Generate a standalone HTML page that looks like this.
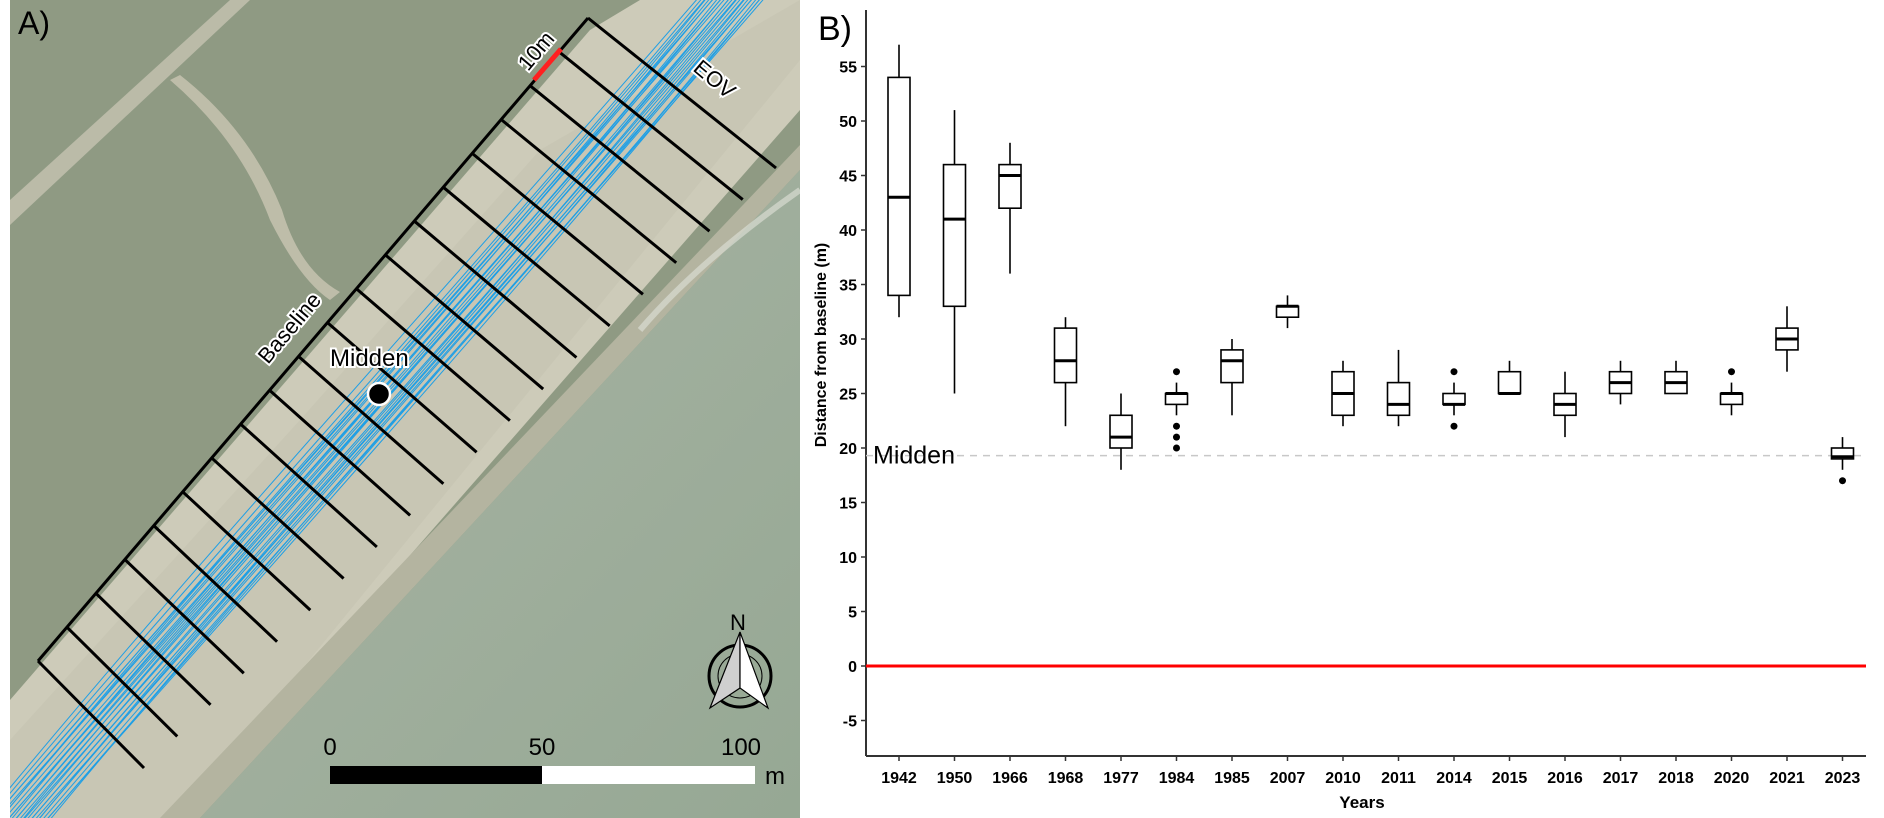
<!DOCTYPE html>
<html><head><meta charset="utf-8"><style>
html,body{margin:0;padding:0;background:#fff;}
svg{display:block;}
text{font-family:"Liberation Sans",Arial,sans-serif;}
</style></head><body>
<svg id="fig" width="1884" height="818" viewBox="0 0 1884 818" xmlns="http://www.w3.org/2000/svg">
<defs>
<clipPath id="mapclip"><rect x="10" y="0" width="790" height="818"/></clipPath>
<linearGradient id="seag" x1="0" y1="0" x2="1" y2="1"><stop offset="0" stop-color="#a9b5a5"/><stop offset="1" stop-color="#96a894"/></linearGradient>
</defs>
<g id="map" clip-path="url(#mapclip)">
<rect x="10" y="0" width="790" height="818" fill="#8f9a83"/>
<path d="M10,200 L230,0 L250,0 L10,225 Z" fill="#c6c3b1" opacity="0.8"/>
<path d="M170,80 Q240,140 270,220 Q300,280 330,300 L340,292 Q300,270 282,210 Q250,130 180,75 Z" fill="#c9c6b3" opacity="0.8"/>
<path d="M10,818 L10,700 L590,30 L640,0 L800,0 L800,110 L180,818 Z" fill="#cdcbb9"/>
<path d="M10,818 L10,740 L300,420 L540,150 L800,0 L800,60 L180,818 Z" fill="#c4c3b0" opacity="0.6"/>
<path d="M160,818 L800,145 L800,170 L200,818 Z" fill="#b4b4a0"/>
<path d="M200,818 L800,170 L800,818 Z" fill="url(#seag)"/>
<path d="M640,330 Q700,260 800,190" stroke="#d8dbd2" stroke-width="6" fill="none" opacity="0.7"/>
<g id="shorelines" fill="none" stroke="#1e9fe6" stroke-width="1"></g>
<g id="transects" stroke="#000" stroke-width="3" fill="none"></g>
<line x1="534" y1="80" x2="561" y2="49" stroke="#ff2020" stroke-width="5"/>
<text x="0" y="0" font-size="22" fill="#000" stroke="#fff" stroke-width="4" paint-order="stroke" transform="translate(528,72) rotate(-50)">10m</text>
<text x="0" y="0" font-size="22" fill="#000" stroke="#fff" stroke-width="4" paint-order="stroke" transform="translate(692,70) rotate(40)">EOV</text>
<text x="0" y="0" font-size="22" fill="#000" stroke="#fff" stroke-width="4" paint-order="stroke" transform="translate(268,365) rotate(-50)">Baseline</text>
<text x="330" y="366" font-size="24" fill="#000" stroke="#fff" stroke-width="4" paint-order="stroke">Midden</text>
<circle cx="379" cy="394" r="11" fill="#000" stroke="#fff" stroke-width="2.5"/>
<text x="18" y="34" font-size="32" fill="#000">A)</text>
<g>
<text x="730" y="630" font-size="22" fill="#000">N</text>
<circle cx="740" cy="676" r="31" fill="none" stroke="#000" stroke-width="3"/>
<circle cx="740" cy="676" r="22" fill="none" stroke="#000" stroke-width="1"/>
<path d="M740,632 L710,708 L740,688 Z" fill="#cfcfcf" stroke="#000" stroke-width="1.2"/>
<path d="M740,632 L768,708 L740,688 Z" fill="#fff" stroke="#000" stroke-width="1.2"/>
</g>
<g>
<rect x="330" y="766" width="212" height="18" fill="#000"/>
<rect x="542" y="766" width="213" height="18" fill="#fff"/>
<text x="330" y="755" font-size="24" text-anchor="middle" fill="#000">0</text>
<text x="542" y="755" font-size="24" text-anchor="middle" fill="#000">50</text>
<text x="741" y="755" font-size="24" text-anchor="middle" fill="#000">100</text>
<text x="765" y="784" font-size="24" fill="#000">m</text>
</g>
</g>

<g id="chart">
<text x="818" y="40" font-size="34" fill="#000">B)</text>
<g id="yaxis"></g>
<g id="xaxis"></g>
<g id="refs"></g>
<g id="boxes"></g>
<text x="0" y="0" font-size="16" font-weight="bold" text-anchor="middle" transform="translate(826,345) rotate(-90)">Distance from baseline (m)</text>
<text x="1362" y="808" font-size="17" font-weight="bold" text-anchor="middle">Years</text>
</g>
</svg>
<script>
const categories=["1942","1950","1966","1968","1977","1984","1985","2007","2010","2011","2014","2015","2016","2017","2018","2020","2021","2023"];
const whiskerLow=[32,25,36,22,18,23,23,31,22,22,23,25,21,24,25,23,27,18];
const q1=[34,33,42,26,20,24,26,32,23,23,24,25,23,25,25,24,29,19];
const medians=[43,41,45,28,21,25,28,33,25,24,24,25,24,26,26,25,30,19.2];
const q3=[54,46,46,31,23,25,29,33,27,26,25,27,25,27,27,25,31,20];
const whiskerHigh=[57,51,48,32,25,26,30,34,28,29,26,28,27,28,28,26,33,21];
const outliers=[[],[],[],[],[],[27,22,21,20],[],[],[],[],[27,22],[],[],[],[],[27],[],[17]];
const yTicks=[-5,0,5,10,15,20,25,30,35,40,45,50,55];
const middenValue=19.3;
const baselineValue=0;

const NS="http://www.w3.org/2000/svg";
const X0=866,X1=1866,YT=10,YB=756;
function y(v){return 666-v*10.9;}
function x(i){return 899+i*55.5;}
function mk(tag,attrs,parent){const e=document.createElementNS(NS,tag);for(const k in attrs)e.setAttribute(k,attrs[k]);parent.appendChild(e);return e;}

const ya=document.getElementById('yaxis');
const yl=mk('line',{x1:X0,y1:YT,x2:X0,y2:YB,stroke:'#333','stroke-width':2},ya);


yTicks.forEach(t=>{
  const tk=mk('line',{x1:X0-5,y1:y(t),x2:X0,y2:y(t),stroke:'#333','stroke-width':1.5},ya);
  
  
  const tx=mk('text',{x:X0-9,y:y(t)+6,'font-size':16,'font-weight':'bold','text-anchor':'end'},ya);
  tx.textContent=t;
  
  
});
const xa=document.getElementById('xaxis');
const xl=mk('line',{x1:X0,y1:YB,x2:X1,y2:YB,stroke:'#333','stroke-width':2},xa);


categories.forEach((c,i)=>{
  const tk=mk('line',{x1:x(i),y1:YB,x2:x(i),y2:YB+5,stroke:'#333','stroke-width':1.5},xa);
  
  
  const tx=mk('text',{x:x(i),y:YB+27,'font-size':16,'font-weight':'bold','text-anchor':'middle'},xa);
  tx.textContent=c;
  
  
});
const rf=document.getElementById('refs');
const ml=mk('line',{x1:X0,y1:y(middenValue),x2:X1,y2:y(middenValue),stroke:'#c8c8c8','stroke-width':1.5,'stroke-dasharray':'7,6'},rf);


const mt=mk('text',{x:873,y:y(middenValue)+8,'font-size':25},rf);
mt.textContent='Midden';


const bl=mk('line',{x1:X0,y1:y(baselineValue),x2:X1,y2:y(baselineValue),stroke:'#ff0000','stroke-width':3},rf);



const bx=document.getElementById('boxes');
categories.forEach((c,i)=>{
  const g=mk('g',{},bx);
  
  
  const cx=x(i),w=22;
  mk('line',{x1:cx,y1:y(whiskerHigh[i]),x2:cx,y2:y(q3[i]),stroke:'#000','stroke-width':1.6},g);
  mk('line',{x1:cx,y1:y(q1[i]),x2:cx,y2:y(whiskerLow[i]),stroke:'#000','stroke-width':1.6},g);
  mk('rect',{x:cx-w/2,y:y(q3[i]),width:w,height:Math.max(0,y(q1[i])-y(q3[i])),fill:'#fff',stroke:'#000','stroke-width':1.6},g);
  mk('line',{x1:cx-w/2,y1:y(medians[i]),x2:cx+w/2,y2:y(medians[i]),stroke:'#000','stroke-width':3},g);
  outliers[i].forEach(o=>{
    const d=mk('circle',{cx:cx,cy:y(o),r:3.5,fill:'#000'},g);
    
    
  });
});

// map decoration
const sh=document.getElementById('shorelines');
for(let k=0;k<26;k++){
  const off=5+k*2.6+(k%3)*1.5;
  const w1=(k%5)*4-8, w2=((k*7)%5)*4-8;
  const p=mk('path',{d:`M${-30+off},${830} C${200+off+w1},${560} ${440+off+w2},${300} ${700+off},${-10}`},sh);
  
  
}
const tr=document.getElementById('transects');
const B0=[38,661],B1=[588,18],E0=[144,768],E1=[776,168];
const bp=mk('path',{d:`M${B0[0]},${B0[1]} L${B1[0]},${B1[1]}`},tr);


for(let k=0;k<20;k++){
  const t=k/19;
  const sx=B0[0]+(B1[0]-B0[0])*t, sy=B0[1]+(B1[1]-B0[1])*t;
  const ex=E0[0]+(E1[0]-E0[0])*t, ey=E0[1]+(E1[1]-E0[1])*t;
  const l=mk('line',{x1:sx,y1:sy,x2:ex,y2:ey},tr);
  
  
}
</script>
</body></html>
